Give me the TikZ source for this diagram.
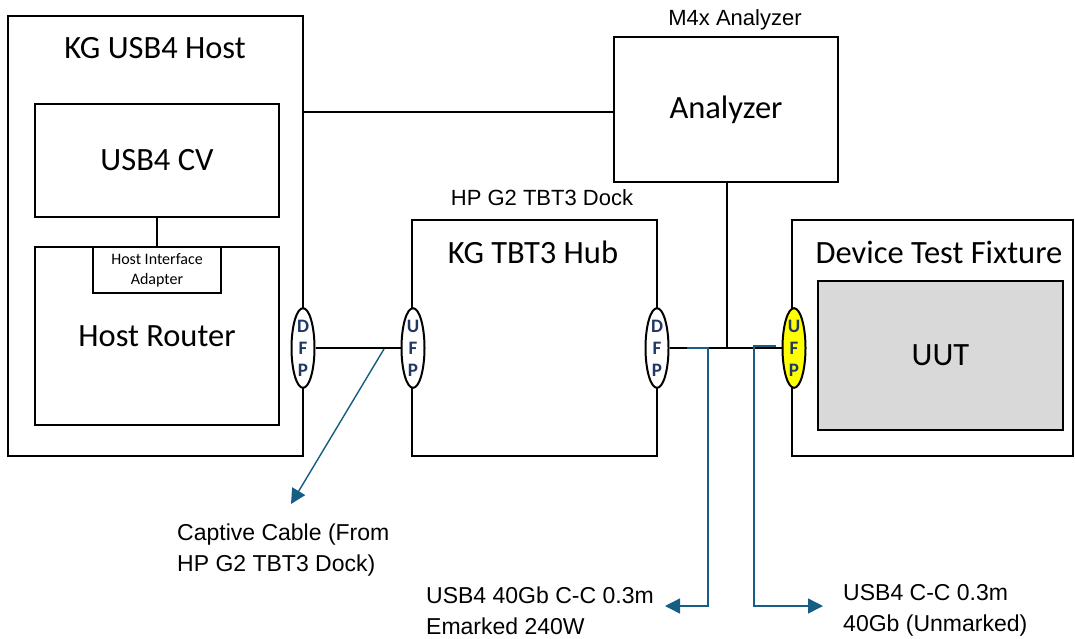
\documentclass[tikz,border=0pt]{standalone}
\usepackage{fontspec}
\setmainfont{Carlito}
\newfontfamily\capfont{Liberation Sans}
\usetikzlibrary{arrows.meta,shapes.geometric}
\definecolor{cable}{RGB}{22,94,132}
\definecolor{portblue}{RGB}{31,56,100}
\definecolor{uutgray}{RGB}{217,217,217}
\definecolor{portyellow}{RGB}{255,255,0}
\tikzset{
  blk/.style={draw, line width=2pt, inner sep=0pt, font=\fontsize{32.5}{36}\selectfont},
  ttl/.style={inner sep=0pt, font=\fontsize{32.5}{36}\selectfont},
  captxt/.style={inner sep=0pt, align=left, font=\capfont\fontsize{22}{31}\selectfont},
  bigcap/.style={captxt, font=\capfont\fontsize{23}{31}\selectfont},
  port/.style={ellipse, draw, line width=2pt, fill=white, minimum width=23pt, minimum height=72pt, inner sep=0pt, align=center, text=portblue, font=\bfseries\fontsize{19}{22}\selectfont},
  wire/.style={line width=2pt},
  cablearrow/.style={draw=cable, line width=1.4pt, -{Triangle[length=15pt,width=15pt]}},
}
\begin{document}
\begin{tikzpicture}[x=1pt,y=-1pt]
\useasboundingbox (0,0) rectangle (1075,638);
% boxes
\node[blk, minimum width=295pt, minimum height=440pt] (host) at (155.5,236) {};
\node[ttl] (hostt) at (155,48) {KG USB4 Host};
\node[blk, minimum width=244pt, minimum height=113pt] (cv) at (157,160.5) {USB4 CV};
\node[blk, minimum width=244pt, minimum height=178pt] (router) at (157,336) {Host Router};
\node[blk, minimum width=128pt, minimum height=46pt, align=center, font=\fontsize{16}{20}\selectfont] (adapter) at (157,270) {Host Interface\\Adapter};
\node[blk, minimum width=224pt, minimum height=145pt] (analyzer) at (726,109.5) {Analyzer};
\node[captxt] (analyzert) at (735,20) {M4x Analyzer};
\node[blk, minimum width=245pt, minimum height=236pt] (hub) at (534.5,338) {};
\node[ttl] (hubt) at (533,252) {KG TBT3 Hub};
\node[captxt] (dockt) at (542,198) {HP G2 TBT3 Dock};
\node[blk, minimum width=281pt, minimum height=236pt] (fixture) at (932.5,338) {};
\node[ttl] (fixturet) at (939,252) {Device Test Fixture};
\node[blk, line width=1.5pt, fill=uutgray, minimum width=245pt, minimum height=149pt] (uut) at (940.5,355.5) {UUT};
% ports
\node[port] (dfpa) at (303,348) {D\\F\\P};
\node[port] (ufpa) at (413,348) {U\\F\\P};
\node[port] (dfpb) at (657,348) {D\\F\\P};
\node[port, fill=portyellow] (ufpb) at (794,348) {U\\F\\P};
% black connectors
\draw[wire] (host.east |- 0,112) -- (analyzer.west |- 0,112);
\draw[wire] (cv.south) -- (adapter.north);
\draw[wire] (dfpa.east) -- (ufpa.west);
\draw[wire] (dfpb.east) -- (ufpb.west);
\coordinate (tap) at (727,348);
\draw[wire] (analyzer.south -| tap) -- (tap);
% cable callouts
\coordinate (c1) at (384,349);
\coordinate (c1tip) at (291,504);
\draw[cablearrow] (c1) -- (c1tip);
\coordinate (c2a) at (687,348);
\coordinate (c2b) at (708,348);
\coordinate (c2c) at (708,606);
\coordinate (c2tip) at (665,606);
\draw[cablearrow] (c2a) -- (c2b) -- (c2c) -- (c2tip);
\coordinate (c3a) at (776,346);
\coordinate (c3b) at (754,346);
\coordinate (c3c) at (754,606);
\coordinate (c3tip) at (823,606);
\draw[cablearrow] (c3a) -- (c3b) -- (c3c) -- (c3tip);
% captions
\node[bigcap, anchor=west] (capcable) at (177,550) {Captive Cable (From\\HP G2 TBT3 Dock)};
\node[bigcap, anchor=west] (capc2) at (426,611) {USB4 40Gb C-C 0.3m\\Emarked 240W};
\node[bigcap, anchor=west] (capc3) at (843,610) {USB4 C-C 0.3m\\40Gb (Unmarked)};
\end{tikzpicture}
\end{document}
